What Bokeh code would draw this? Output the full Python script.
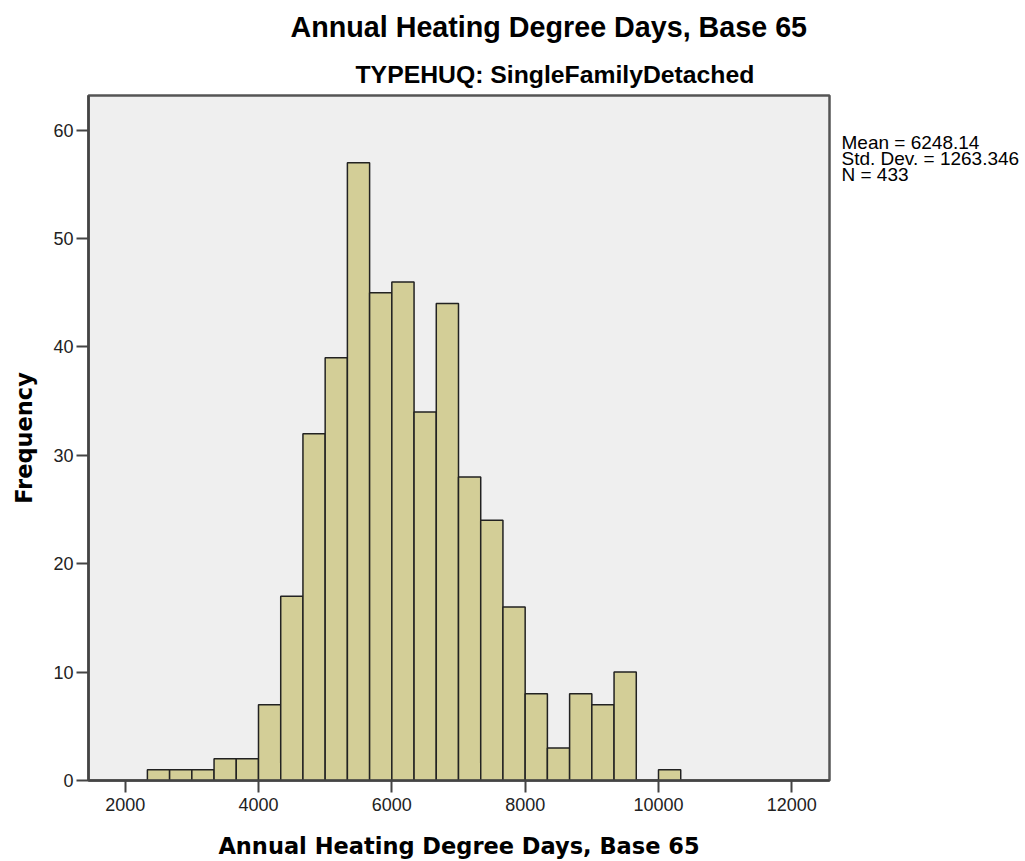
from bokeh.plotting import figure
from bokeh.models import Title, Label, FixedTicker, Range1d
from bokeh.layouts import row
from bokeh.embed import file_html
from bokeh.resources import INLINE

# ---- data ----
bin_start = 2333.33
bin_width = 333.333
counts = [1, 1, 1, 2, 2, 7, 17, 32, 39, 57, 45, 46, 34, 44, 28, 24, 16, 8, 3, 8, 7, 10, 0, 1]
x_ticks = [2000, 4000, 6000, 8000, 10000, 12000]
y_ticks = [0, 10, 20, 30, 40, 50, 60]
title_text = "Annual Heating Degree Days, Base 65"
subtitle_text = "TYPEHUQ: SingleFamilyDetached"
x_label = "Annual Heating Degree Days, Base 65"
y_label = "Frequency"
stats_lines = ["Mean = 6248.14", "Std. Dev. = 1263.346", "N = 433"]

lefts = [bin_start + i * bin_width for i in range(len(counts))]
rights = [l + bin_width for l in lefts]

p = figure(width=835, height=861, output_backend="svg", toolbar_location=None,
           x_range=Range1d(1450, 12565), y_range=Range1d(0, 63.2),
           min_border_left=88, min_border_right=6, min_border_top=95, min_border_bottom=81)

p.background_fill_color = "#EFEFEF"
p.border_fill_color = "white"
p.outline_line_color = "#555555"
p.outline_line_width = 2.5
p.xgrid.visible = False
p.ygrid.visible = False

p.quad(left=lefts, right=rights, bottom=0, top=counts,
       fill_color="#D3CE97", line_color="#222222", line_width=1.5)

for ax in (p.xaxis[0], p.yaxis[0]):
    ax.axis_line_color = "#444444"
    ax.axis_line_width = 2.5
    ax.major_tick_line_color = "#444444"
    ax.major_tick_line_width = 2
    ax.major_tick_out = 12
    ax.major_tick_in = 0
    ax.minor_tick_line_color = None
    ax.major_label_text_font = "Liberation Sans"
    ax.major_label_text_font_size = "18px"
    ax.major_label_text_color = "#222222"
    ax.axis_label_text_font = "DejaVu Sans"
    ax.axis_label_text_font_style = "bold"
    ax.axis_label_text_font_size = "22.5px"
    ax.axis_label_text_color = "black"

p.xaxis.ticker = FixedTicker(ticks=x_ticks)
p.yaxis.ticker = FixedTicker(ticks=y_ticks)
p.xaxis.axis_label = x_label
p.yaxis.axis_label = y_label
p.xaxis.major_label_standoff = 5
p.yaxis.major_label_standoff = 3
p.xaxis.axis_label_standoff = 19
p.yaxis.axis_label_standoff = 13

sub = Title(text=subtitle_text, align="left", offset=267, text_font="Liberation Sans",
            text_font_style="bold", text_font_size="24.75px", standoff=16, text_color="black")
p.add_layout(sub, "above")
main = Title(text=title_text, align="left", offset=202, text_font="Liberation Sans",
             text_font_style="bold", text_font_size="28.7px", standoff=15, text_color="black")
p.add_layout(main, "above")

# side panel for the summary statistics; its frame is aligned with the main frame,
# so the y range is given in page pixels (95 = frame top, 780 = frame bottom)
side = figure(width=190, height=861, output_backend="svg", toolbar_location=None,
              x_range=Range1d(0, 190), y_range=Range1d(780, 95),
              x_axis_location=None, y_axis_location=None,
              min_border_left=0, min_border_right=0, min_border_top=95, min_border_bottom=81)
side.outline_line_color = None
side.background_fill_color = "white"
side.border_fill_color = "white"
side.xgrid.visible = False
side.ygrid.visible = False

line_step = 15.8
for i, s in enumerate(stats_lines):
    side.add_layout(Label(x=6, y=131.5 + i * line_step, text=s, text_baseline="top",
                          text_align="left", text_font="Liberation Sans",
                          text_font_size="19px", text_color="black"))

layout = row(p, side, spacing=0)
open("out.html", "w").write(file_html(layout, INLINE))
